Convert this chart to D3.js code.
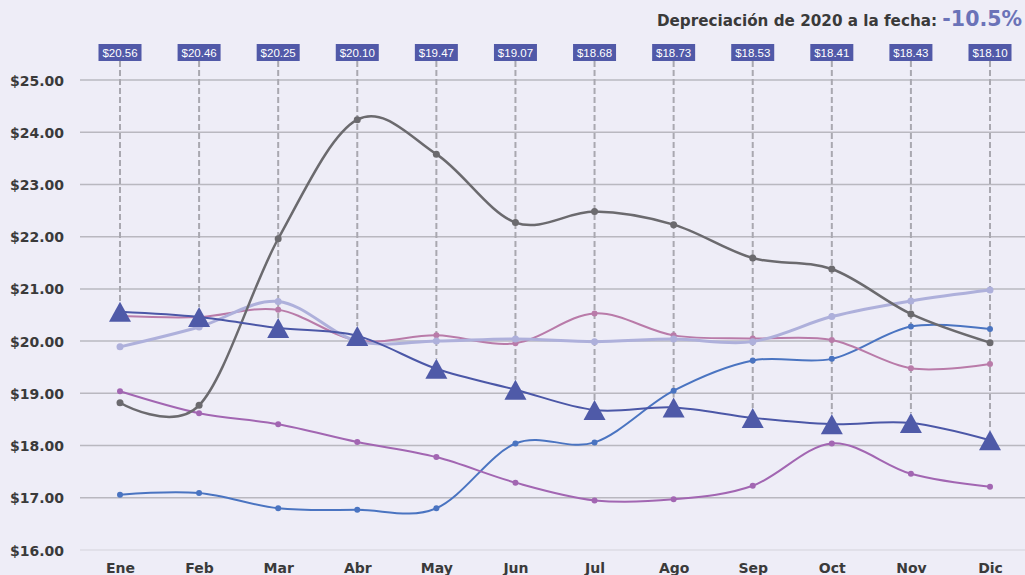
<!DOCTYPE html>
<html>
<head>
<meta charset="utf-8">
<script src="https://cdn.jsdelivr.net/npm/d3@7"></script>
<style>
  html, body { margin: 0; padding: 0; background: #eeedf7; }
  svg { display: block; }
</style>
</head>
<body>
<svg id="chart" width="1025" height="575"></svg>
<script>
// Months and exchange-rate series (MXN per USD)
const months = ["Ene", "Feb", "Mar", "Abr", "May", "Jun", "Jul", "Ago", "Sep", "Oct", "Nov", "Dic"];
const yTicks = [16, 17, 18, 19, 20, 21, 22, 23, 24, 25];

// 2020 rate, labelled on top of each month
const rate2020 = [20.56, 20.46, 20.25, 20.10, 19.47, 19.07, 18.68, 18.73, 18.53, 18.41, 18.43, 18.10];

// Reference years
const seriesGrey     = [18.82, 18.77, 21.96, 24.24, 23.58, 22.27, 22.48, 22.23, 21.59, 21.38, 20.52, 19.97];
const seriesLavender = [19.89, 20.27, 20.76, 20.00, 20.00, 20.04, 19.99, 20.04, 19.99, 20.47, 20.77, 20.98];
const seriesMauve    = [20.48, 20.46, 20.60, 20.01, 20.11, 19.96, 20.53, 20.11, 20.05, 20.02, 19.48, 19.56];
const seriesPurple   = [19.04, 18.62, 18.41, 18.07, 17.78, 17.29, 16.95, 16.97, 17.23, 18.04, 17.46, 17.21];
const seriesBlue     = [17.06, 17.09, 16.80, 16.77, 16.80, 18.04, 18.06, 19.05, 19.63, 19.66, 20.28, 20.23];

const titleText = "Depreciación de 2020 a la fecha:";
const titleValue = "-10.5%";

const svg = d3.select("#chart");
const W = 1025, H = 575;

const x = d3.scalePoint().domain(months).range([120, 990]);
const y = d3.scaleLinear().domain([16, 25]).range([550, 80]);

const fontStack = "'DejaVu Sans', sans-serif";

// Horizontal gridlines
svg.append("g").selectAll("line").data(yTicks).join("line")
  .attr("x1", 80).attr("x2", W)
  .attr("y1", d => y(d)).attr("y2", d => y(d))
  .attr("stroke", d => d === 16 ? "#dcdbe4" : "#b9b8c0")
  .attr("stroke-width", 1.5);

// Y axis labels
const yAxis = d3.axisLeft(y).tickValues(yTicks).tickSize(0).tickPadding(0)
  .tickFormat(d => "$" + d3.format(".2f")(d));
const gy = svg.append("g").attr("transform", "translate(64,0)").call(yAxis);
gy.select(".domain").remove();
gy.selectAll("text")
  .attr("font-family", fontStack).attr("font-weight", "bold")
  .attr("font-size", 14).attr("fill", "#3a3a3a").attr("dy", "0.36em");

// X axis labels
const xAxis = d3.axisBottom(x).tickSize(0).tickPadding(0);
const gx = svg.append("g").attr("transform", "translate(0,562)").call(xAxis);
gx.select(".domain").remove();
gx.selectAll("text")
  .attr("font-family", fontStack).attr("font-weight", "bold")
  .attr("font-size", 14).attr("fill", "#3a3a3a").attr("dy", "0.78em");

// Triangle marker centred on its bounding box
const triH = 20, triW = 22;
const triangle = {
  draw(ctx) {
    ctx.moveTo(0, -triH / 2);
    ctx.lineTo(triW / 2, triH / 2);
    ctx.lineTo(-triW / 2, triH / 2);
    ctx.closePath();
  }
};

// Dashed drop lines from the value boxes down to each 2020 marker
const boxTop = 44, boxH = 17, boxW = 43;
svg.append("g").selectAll("line").data(months).join("line")
  .attr("x1", d => x(d)).attr("x2", d => x(d))
  .attr("y1", boxTop + boxH)
  .attr("y2", (d, i) => y(rate2020[i]) - triH / 2)
  .attr("stroke", "#a9a8b0").attr("stroke-width", 2)
  .attr("stroke-dasharray", "6,3");

// Value boxes
const boxes = svg.append("g").selectAll("g").data(months).join("g")
  .attr("transform", d => `translate(${x(d)},${boxTop})`);
boxes.append("rect")
  .attr("x", -boxW / 2).attr("y", 0).attr("width", boxW).attr("height", boxH)
  .attr("fill", "#5159a8");
boxes.append("text")
  .attr("x", 0).attr("y", 12.5).attr("text-anchor", "middle")
  .attr("font-family", "'Liberation Sans', Arial, sans-serif")
  .attr("font-size", 11.5).attr("fill", "#ffffff")
  .text((d, i) => "$" + d3.format(".2f")(rate2020[i]));

// Smoothed lines
const line = d3.line()
  .x((d, i) => x(months[i]))
  .y(d => y(d))
  .curve(d3.curveCardinal.tension(0));

const others = [
  { values: seriesBlue,     color: "#4a74c1", width: 2,   r: 3 },
  { values: seriesPurple,   color: "#a266b2", width: 2,   r: 3 },
  { values: seriesMauve,    color: "#b97ba9", width: 2,   r: 3 },
  { values: seriesLavender, color: "#aeb0db", width: 3,   r: 3.5 },
  { values: seriesGrey,     color: "#6b6a6e", width: 2.5, r: 3.5 }
];

others.forEach(s => {
  const g = svg.append("g");
  g.append("path").datum(s.values)
    .attr("d", line).attr("fill", "none")
    .attr("stroke", s.color).attr("stroke-width", s.width);
  g.selectAll("circle").data(s.values).join("circle")
    .attr("cx", (d, i) => x(months[i])).attr("cy", d => y(d))
    .attr("r", s.r).attr("fill", s.color);
});

// 2020 series
svg.append("path").datum(rate2020)
  .attr("d", line).attr("fill", "none")
  .attr("stroke", "#4b57a7").attr("stroke-width", 2);
svg.append("g").selectAll("path").data(rate2020).join("path")
  .attr("transform", (d, i) => `translate(${x(months[i])},${y(d)})`)
  .attr("d", d3.symbol().type(triangle)())
  .attr("fill", "#4f5aa8");

// Title
const title = svg.append("text")
  .attr("x", 1022).attr("y", 26).attr("text-anchor", "end")
  .attr("font-family", fontStack).attr("font-weight", "bold");
title.append("tspan").attr("font-size", 15.2).attr("fill", "#3a3a3a").text(titleText + " ");
title.append("tspan").attr("font-size", 20.5).attr("fill", "#6b73b8").text(titleValue);
</script>
</body>
</html>
